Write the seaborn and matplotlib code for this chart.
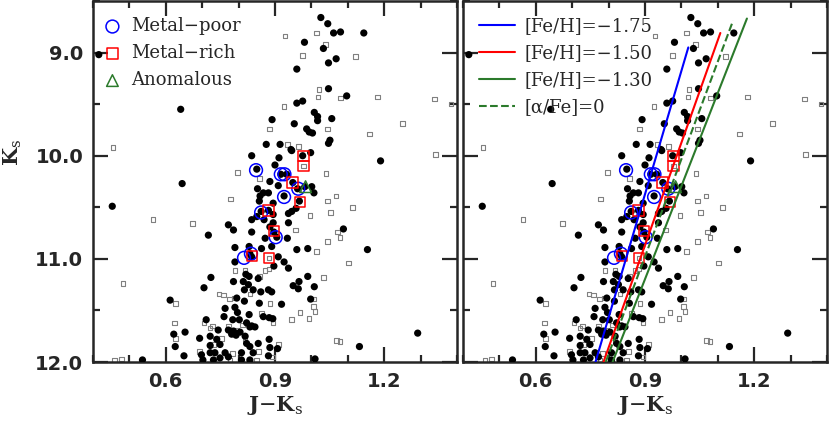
import matplotlib
matplotlib.use("Agg")
import matplotlib.pyplot as plt
import seaborn as sns
from matplotlib.ticker import MultipleLocator

# --- data (J-Ks vs Ks) ---
member_jk = [1.026, 1.045, 1.061, 1.080, 1.144, 0.981, 1.033, 1.047, 1.068, 0.960, 0.416, 1.047, 1.097, 0.976,
             0.960, 0.641, 1.008, 1.017, 1.056, 1.017, 0.953, 0.892, 0.987, 0.994, 1.003, 1.051, 1.047, 0.914,
             0.876, 0.944, 1.190,
             0.836, 0.911, 0.946, 0.976, 0.998, 0.850, 0.900, 0.916, 0.932, 0.886, 0.949, 0.962, 0.982, 1.001,
             1.007, 0.852, 0.868, 0.882, 0.909, 0.925, 0.859, 0.857, 0.895, 0.967, 0.958, 0.946, 0.937, 0.862,
             0.882, 0.895, 0.850, 0.836, 0.870, 0.772, 0.786, 0.895, 0.886, 0.937, 0.836, 0.897, 0.905, 0.873,
             0.934, 0.790, 0.829, 0.863, 0.891, 0.990, 0.960, 0.831,
             0.836, 0.790, 0.909, 0.925, 0.937, 0.897, 0.786, 0.820, 0.829, 0.813, 0.827, 0.854, 0.816, 0.840,
             0.861, 0.882, 0.891, 0.966, 0.950, 0.964, 0.990, 1.008, 0.998, 0.795, 0.816, 0.857, 0.918, 0.763,
             0.790, 0.797, 0.829, 0.760, 0.784, 0.802, 0.884, 0.894, 0.868, 0.836, 0.822, 0.744, 0.772, 0.786,
             0.781, 0.793, 0.804, 0.831, 0.845, 0.818, 0.884, 0.740, 0.749, 0.822, 0.854, 0.831, 0.840, 0.886,
             0.907, 0.735, 0.763, 0.772, 0.749, 0.808, 0.808, 0.831, 0.882, 0.731,
             0.645, 0.453, 0.717, 0.724, 0.705, 0.612, 0.711, 0.622, 0.653, 0.693, 0.722, 0.626, 0.722, 0.650,
             0.698, 0.722, 0.702, 0.536,
             1.088, 1.154, 1.292, 1.132, 1.010]
member_ks = [8.66, 8.72, 8.81, 8.80, 8.81, 8.90, 8.96, 9.10, 9.06, 9.16, 9.02, 9.35, 9.42, 9.47,
             9.49, 9.55, 9.58, 9.62, 9.64, 9.66, 9.69, 9.65, 9.74, 9.77, 9.78, 9.85, 9.88, 9.89,
             9.89, 9.94, 10.05,
             10.00, 10.02, 9.95, 10.00, 9.97, 10.13, 10.09, 10.18, 10.18, 10.25, 10.26, 10.32, 10.30, 10.30,
             10.36, 10.32, 10.36, 10.36, 10.29, 10.39, 10.39, 10.44, 10.46, 10.44, 10.51, 10.54, 10.56, 10.54,
             10.53, 10.57, 10.59, 10.62, 10.62, 10.67, 10.72, 10.65, 10.69, 10.65, 10.74, 10.74, 10.79, 10.80,
             10.80, 10.89, 10.88, 10.90, 10.88, 10.90, 10.91, 10.95,
             10.98, 11.03, 10.98, 11.03, 11.09, 11.07, 11.22, 11.15, 11.17, 11.22, 11.25, 11.19, 11.30, 11.30,
             11.32, 11.30, 11.32, 11.22, 11.26, 11.29, 11.17, 11.27, 11.39, 11.38, 11.41, 11.43, 11.44, 11.48,
             11.47, 11.52, 11.54, 11.56, 11.59, 11.59, 11.57, 11.58, 11.56, 11.65, 11.62, 11.69, 11.69, 11.70,
             11.73, 11.74, 11.71, 11.66, 11.66, 11.75, 11.78, 11.78, 11.83, 11.82, 11.82, 11.85, 11.91, 11.86,
             11.87, 11.91, 11.91, 11.95, 11.96, 11.91, 11.98, 11.98, 11.94, 11.98,
             10.27, 10.49, 10.77, 11.18, 11.28, 11.40, 11.59, 11.73, 11.71, 11.77, 11.75, 11.85, 11.84, 11.94,
             11.93, 11.91, 11.98, 11.98,
             10.71, 10.91, 11.72, 11.85, 11.97]

field_jk = [0.927, 1.014, 1.039, 0.976, 1.121, 1.021, 1.018, 1.080, 1.182, 1.338, 1.383, 0.925, 1.044, 1.250,
            1.160, 0.935, 0.964, 0.885, 0.455, 1.341, 1.113, 1.079, 1.102, 1.079, 0.565, 0.674, 0.482, 0.626,
            0.624, 0.705, 0.722, 0.627, 0.693, 0.460, 0.478,
            0.797, 0.857, 0.978, 1.040, 1.068, 0.778, 1.044, 1.053, 0.996, 0.956, 1.044, 1.014, 1.072, 0.964,
            0.790, 0.818, 0.873, 0.884, 0.857, 1.033, 0.746, 0.758, 0.775, 0.788, 0.831, 0.886, 1.007, 0.969,
            0.946, 0.993, 1.005, 1.010, 0.863, 0.895, 0.729, 0.772, 0.811, 0.795, 0.753, 0.818, 0.731, 0.909,
            0.854, 0.850, 0.894, 0.784, 1.069, 0.776, 0.884]
field_ks = [8.84, 8.81, 8.92, 9.03, 9.04, 9.36, 9.43, 9.44, 9.43, 9.45, 9.50, 9.52, 9.74, 9.69,
            9.79, 9.89, 9.91, 9.74, 9.92, 9.99, 10.50, 10.79, 11.04, 11.80, 10.62, 10.66, 11.24, 11.43,
            11.62, 11.62, 11.67, 11.77, 11.90, 11.98, 11.97,
            10.16, 10.22, 10.10, 10.17, 10.39, 10.42, 10.44, 10.55, 10.58, 10.72, 10.83, 10.93, 10.74, 10.32,
            11.11, 11.11, 11.11, 11.10, 11.17, 11.18, 11.34, 11.35, 11.39, 11.38, 11.34, 11.43, 11.39, 11.52,
            11.59, 11.58, 11.46, 11.51, 11.53, 11.62, 11.65, 11.65, 11.64, 11.69, 11.77, 11.77, 11.83, 11.83,
            11.90, 11.98, 11.95, 11.92, 11.79, 11.98, 10.99]

poor_jk = [0.848, 0.916, 0.926, 0.964, 0.925, 0.862, 0.902, 0.834, 0.815]
poor_ks = [10.14, 10.18, 10.18, 10.32, 10.40, 10.55, 10.79, 10.95, 10.99]
rich_jk = [0.978, 0.978, 0.948, 0.969, 0.882, 0.897, 0.836, 0.884]
rich_ks = [10.00, 10.10, 10.26, 10.45, 10.53, 10.73, 10.97, 10.99]
anom_jk = [0.984]
anom_ks = [10.30]

# isochrone ridge lines (bottom and top end points)
iso_labels = ["[Fe/H]=\u22121.75", "[Fe/H]=\u22121.50", "[Fe/H]=\u22121.30", "[\u03b1/Fe]=0"]
iso_jk = [[0.764, 1.019], [0.786, 1.107], [0.811, 1.180], [0.792, 1.142]]
iso_ks = [[12.0, 8.95], [12.0, 8.81], [12.0, 8.67], [12.0, 8.69]]
iso_colors = ["blue", "red", "#2b7a2b", "#2b7a2b"]
iso_styles = ["-", "-", "-", "--"]

sns.set_style("ticks")
plt.rcParams['font.family'] = ['DejaVu Serif', 'DejaVu Sans']
plt.rcParams['mathtext.fontset'] = 'dejavuserif'

fig = plt.figure(figsize=(8.3, 4.24), dpi=100)
ax1 = fig.add_axes([0.1120, 0.1462, 0.4386, 0.8514])
ax2 = fig.add_axes([0.5578, 0.1462, 0.4386, 0.8514], sharey=ax1)

green = "#2b7a2b"
for ax in (ax1, ax2):
    sns.scatterplot(x=field_jk, y=field_ks, ax=ax, marker='s', s=11, facecolor='none',
                    edgecolor='0.5', linewidth=0.8, zorder=2)
    sns.scatterplot(x=member_jk, y=member_ks, ax=ax, marker='o', s=27, color='black',
                    edgecolor='none', linewidth=0, zorder=3)
    sns.scatterplot(x=poor_jk, y=poor_ks, ax=ax, marker='o', s=85, facecolor='none',
                    edgecolor='blue', linewidth=1.1, zorder=4, label='Metal\u2212poor')
    sns.scatterplot(x=rich_jk, y=rich_ks, ax=ax, marker='s', s=55, facecolor='none',
                    edgecolor='red', linewidth=1.1, zorder=4, label='Metal\u2212rich')
    sns.scatterplot(x=anom_jk, y=anom_ks, ax=ax, marker='^', s=70, facecolor='none',
                    edgecolor=green, linewidth=1.1, zorder=4, label='Anomalous')

    ax.set_xlim(0.4, 1.4)
    ax.set_ylim(12.0, 8.5)
    ax.xaxis.set_major_locator(MultipleLocator(0.3))
    ax.xaxis.set_minor_locator(MultipleLocator(0.1))
    ax.yaxis.set_major_locator(MultipleLocator(1.0))
    ax.yaxis.set_minor_locator(MultipleLocator(0.5))
    ax.tick_params(which='both', direction='in', top=True, right=True, width=1.6)
    ax.tick_params(which='major', length=10.5, labelsize=14, pad=7)
    ax.tick_params(which='minor', length=5)
    for sp in ax.spines.values():
        sp.set_linewidth(1.8)
    for lab in ax.get_xticklabels() + ax.get_yticklabels():
        lab.set_fontweight('bold')
        lab.set_family('DejaVu Sans')
    ax.set_xlabel(r'J$-$K$_{\rm s}$', fontsize=15, fontweight='bold', labelpad=2)

ax1.yaxis.set_major_formatter(matplotlib.ticker.FormatStrFormatter('%.1f'))
ax1.set_ylabel(r'K$_{\rm s}$', fontsize=15, fontweight='bold')
ax1.yaxis.set_label_coords(-0.19, 0.58)
ax2.set_ylabel('')
ax2.tick_params(labelleft=False)

ax1.legend(loc='upper left', bbox_to_anchor=(-0.016, 1.0), frameon=False, fontsize=13,
           handletextpad=0.55, labelspacing=0.5, borderaxespad=0.6, handlelength=1.0,
           borderpad=0.3)
ax2.get_legend().remove()

iso_lines = []
for xs, ys, c, ls, lab in zip(iso_jk, iso_ks, iso_colors, iso_styles, iso_labels):
    sns.lineplot(x=xs, y=ys, ax=ax2, color=c, linestyle=ls, linewidth=1.5, sort=False,
                 label=lab, zorder=5)
    iso_lines.append(ax2.get_lines()[-1])
ax2.legend(handles=iso_lines, labels=iso_labels, loc='upper left', bbox_to_anchor=(0.0, 1.0),
           frameon=False, fontsize=13, handletextpad=0.5, labelspacing=0.5,
           borderaxespad=0.6, handlelength=2.0, borderpad=0.3)

fig.savefig("out.png", dpi=100)
